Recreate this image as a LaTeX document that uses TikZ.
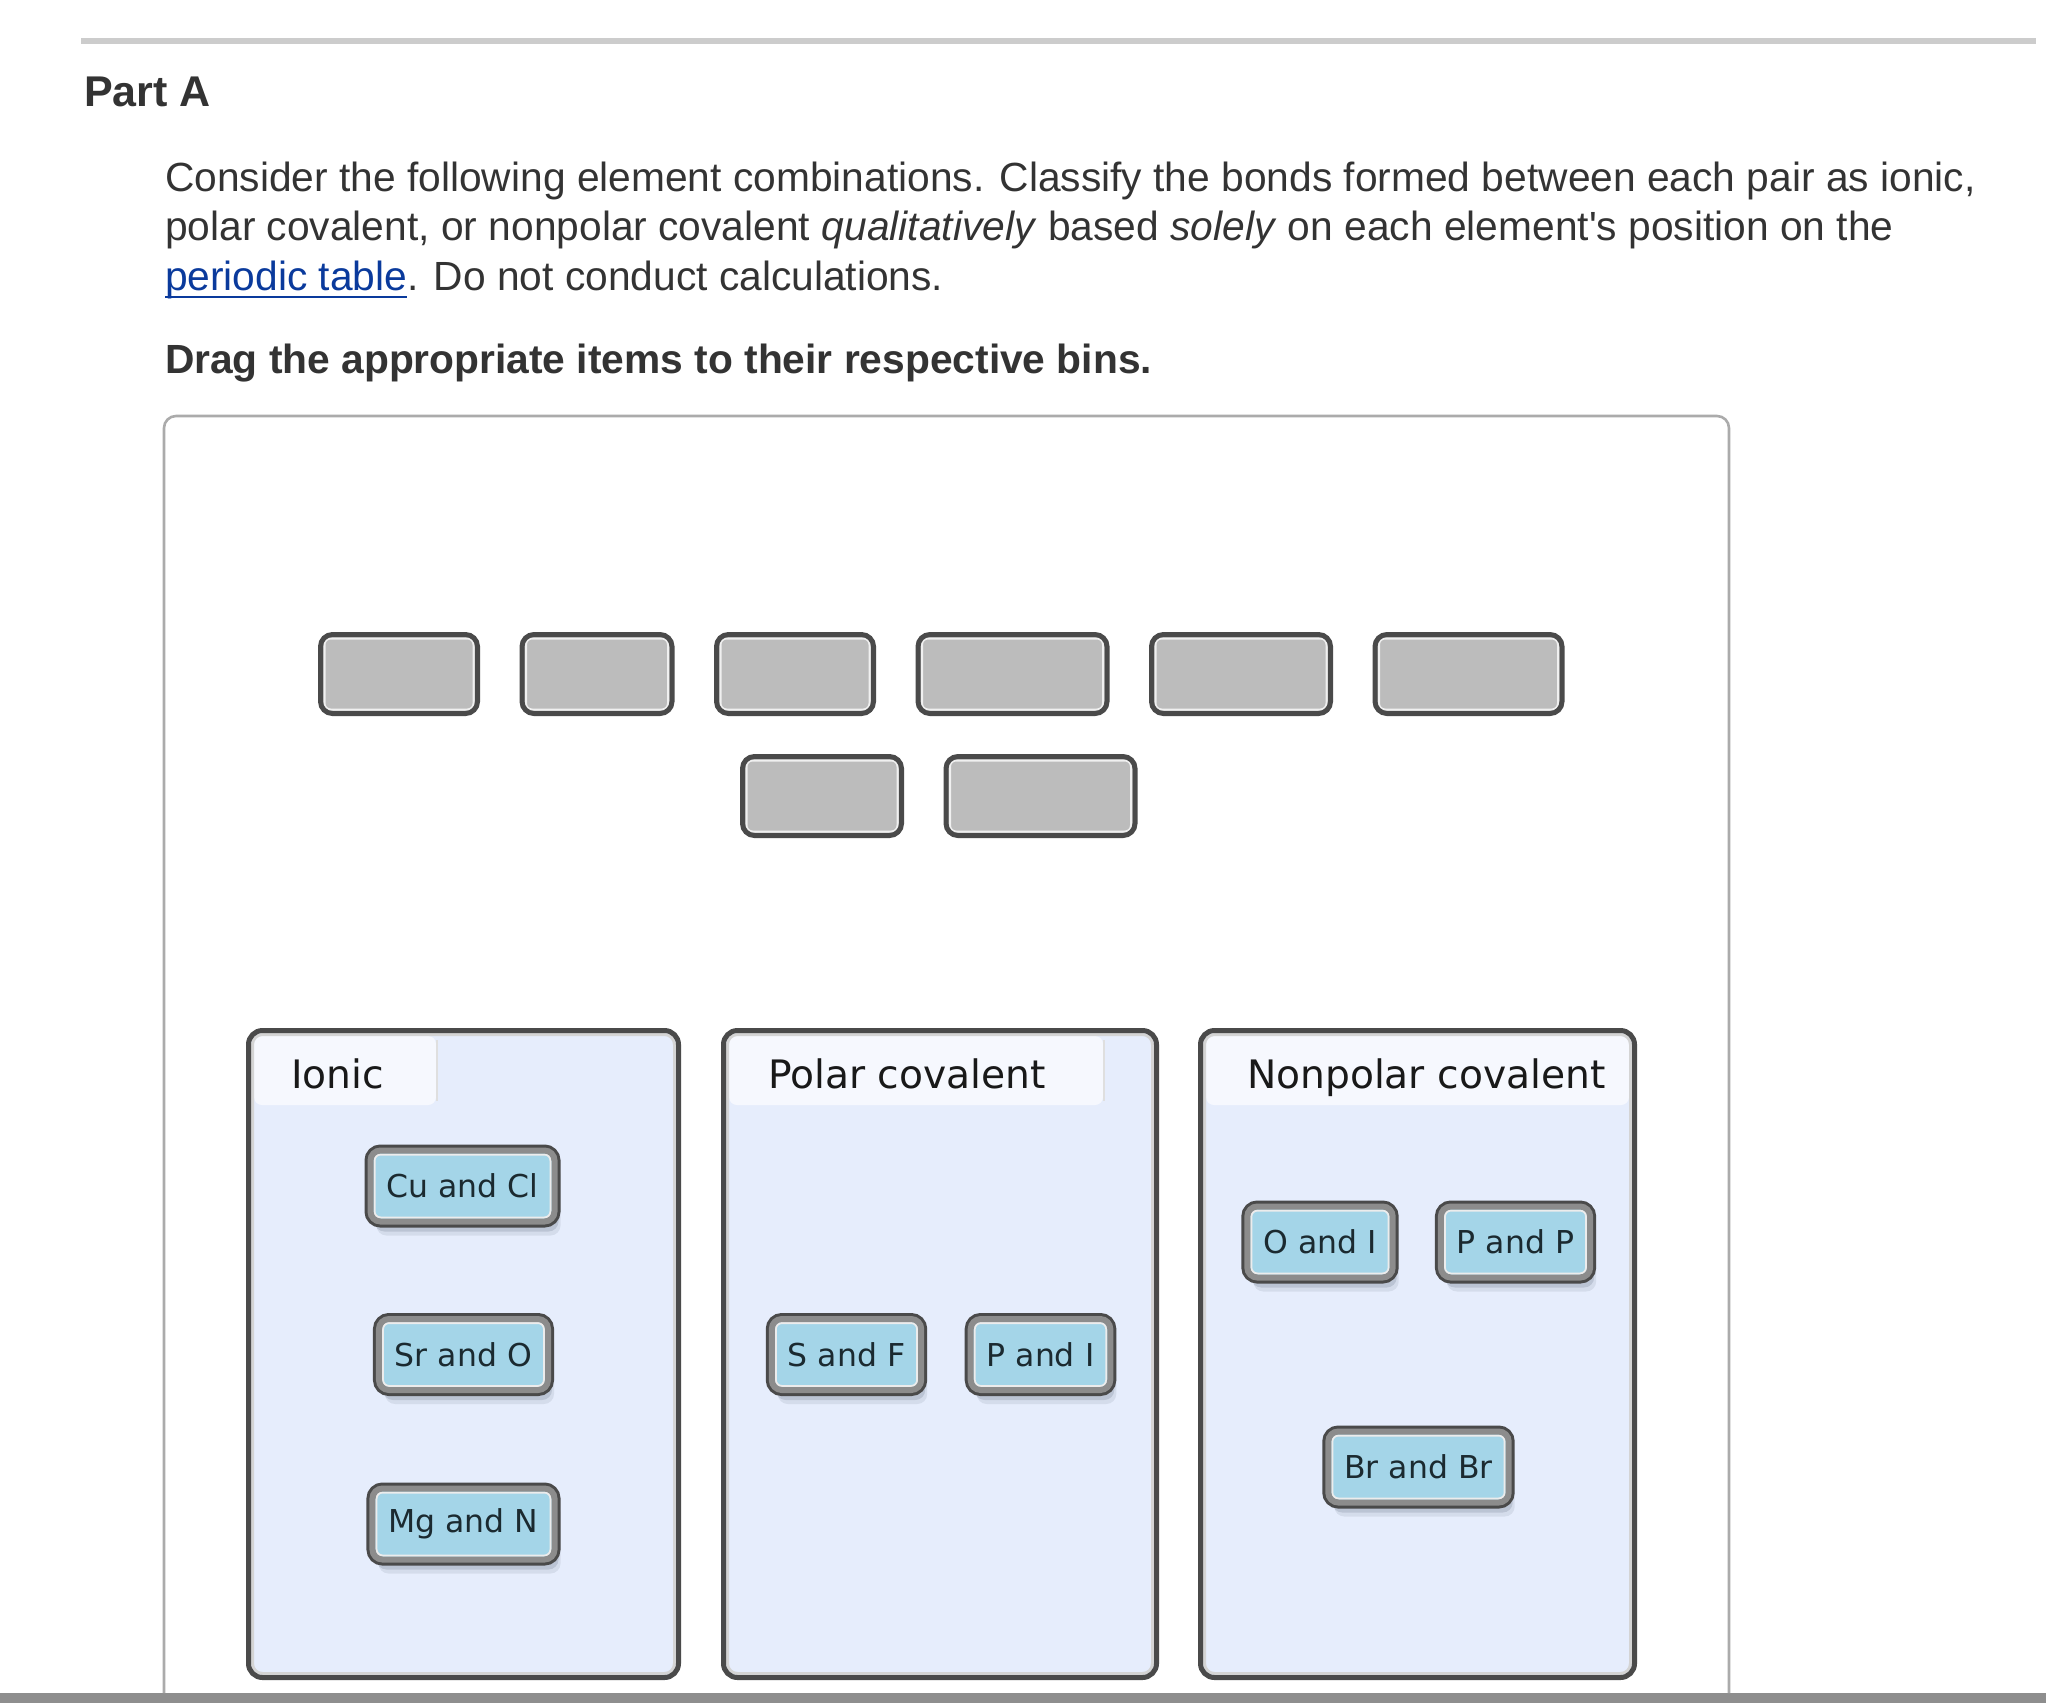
\documentclass[tikz,border=0pt]{standalone}
\usepackage{fontspec}
\setmainfont{Liberation Sans}
\newfontfamily\binfont{DejaVu Sans}
\usepackage{tikz}
\usetikzlibrary{
   positioning,
   shadows
}
\definecolor{inktext}{HTML}{333333}
\definecolor{linkblue}{HTML}{0A3A9C}
\definecolor{rulegray}{HTML}{CCCCCC}
\definecolor{boxgray}{HTML}{ABABAB}
\definecolor{framedark}{HTML}{4A4A4A}
\definecolor{rimlight}{HTML}{D4D4D4}
\definecolor{bodyblue}{HTML}{E6EDFC}
\definecolor{tabwhite}{HTML}{F6F8FE}
\definecolor{slotgray}{HTML}{BCBCBC}
\definecolor{itemblue}{HTML}{A4D5E8}
\definecolor{itemmid}{HTML}{8C8C8C}
\definecolor{itemtext}{HTML}{1B2A30}
\definecolor{shadowgray}{HTML}{5A6478}
\definecolor{bargray}{HTML}{8E8E8E}

\begin{document}
\begin{tikzpicture}[
  x=0.5pt, y=-0.5pt,
  every node/.style={inner sep=0pt, outer sep=0pt},
  bodytext/.style={anchor=base west, text=inktext, font=\fontsize{20.37pt}{24pt}\selectfont},
  headtext/.style={anchor=base west, text=inktext, font=\fontsize{21.5pt}{26pt}\selectfont\bfseries},
  bintitle/.style={anchor=base west, text=black!90, font=\binfont\fontsize{19.6pt}{23pt}\selectfont},
  innerrim/.style={path picture={\draw[#1, line width=1pt, rounded corners=3pt]
      ([shift={(2pt,-2pt)}]path picture bounding box.north west) rectangle
      ([shift={(-2pt,2pt)}]path picture bounding box.south east);}},
  dropslot/.style={draw=framedark, line width=2.5pt, fill=slotgray, rounded corners=6pt,
      minimum height=39.5pt, anchor=west, innerrim=white!88!gray},
  pairitem/.style={fill=itemblue, draw=itemmid, line width=3pt, rounded corners=5pt,
      drop shadow={shadow xshift=3pt, shadow yshift=-7pt, opacity=0.12, fill=shadowgray},
      drop shadow={shadow xshift=2pt, shadow yshift=-5pt, opacity=0.2, fill=shadowgray},
      preaction={draw=framedark, line width=6pt},
      minimum height=35.5pt, inner xsep=8pt, text=itemtext, innerrim=white!85!gray,
      font=\binfont\fontsize{15.75pt}{18pt}\selectfont},
]
\useasboundingbox (0,0) rectangle (2046,1703);

% top rule and bottom bar
\draw[rulegray, line width=3pt] (81,40.5) -- (2036,40.5);
\fill[bargray] (0,1693) rectangle (2046,1703);

% heading and instructions
\node[headtext] (parta) at (84,106) {Part A};
\node[bodytext] (intro1) at (165,191) {Consider the following element combinations. Classify the bonds formed between each pair as ionic,};
\node[bodytext] (intro2) at (165,240.5) {polar covalent, or nonpolar covalent \textit{qualitatively} based \textit{solely} on each element\textquotesingle s position on the};
\node[bodytext, text=linkblue] (link) at (165,290) {periodic table};
\node[bodytext] (intro3) at (link.base east) {. Do not conduct calculations.};
\draw[linkblue, line width=1pt] ([yshift=-3.5pt]link.base west) -- ([yshift=-3.5pt]link.base east);
\node[headtext, font=\fontsize{20.37pt}{24pt}\selectfont\bfseries] (drag) at (165,373) {Drag the appropriate items to their respective bins.};

% drag area
\draw[boxgray, line width=1.3pt, rounded corners=6pt] (164,1693) -- (164,416) -- (1729,416) -- (1729,1693);

% empty slots
\node[dropslot, minimum width=78.5pt] (slot1) at (320.5,674) {};
\node[dropslot, minimum width=75pt, right=22.25pt of slot1] (slot2) {};
\node[dropslot, minimum width=78.5pt, right=22.25pt of slot2] (slot3) {};
\node[dropslot, minimum width=94.5pt, right=22.25pt of slot3] (slot4) {};
\node[dropslot, minimum width=89.5pt, right=22.25pt of slot4] (slot5) {};
\node[dropslot, minimum width=93.5pt, right=22.25pt of slot5] (slot6) {};
\node[dropslot, minimum width=79.5pt] (slot7) at (742.5,796) {};
\node[dropslot, minimum width=94.5pt, right=22.25pt of slot7] (slot8) {};

% ionic bin
\fill[bodyblue, rounded corners=6pt] (248,1030) rectangle (679,1678);
\fill[tabwhite, rounded corners=4pt] (254,1036) rectangle (436,1105);
\draw[gray!25, line width=1pt] (437,1040) -- (437,1101);
\draw[rimlight, line width=1.5pt, rounded corners=5pt] (252.5,1034.5) rectangle (674.5,1673.5);
\draw[framedark, line width=2.5pt, rounded corners=7pt] (248.5,1030.5) rectangle (678.5,1677.5);
\node[bintitle] (ionic) at (291,1088) {Ionic};

% polar bin
\fill[bodyblue, rounded corners=6pt] (723,1030) rectangle (1157,1678);
\fill[tabwhite, rounded corners=4pt] (729,1036) rectangle (1103,1105);
\draw[gray!25, line width=1pt] (1104,1040) -- (1104,1101);
\draw[rimlight, line width=1.5pt, rounded corners=5pt] (727.5,1034.5) rectangle (1152.5,1673.5);
\draw[framedark, line width=2.5pt, rounded corners=7pt] (723.5,1030.5) rectangle (1156.5,1677.5);
\node[bintitle] (polar) at (768,1088) {Polar covalent};

% nonpolar bin
\fill[bodyblue, rounded corners=6pt] (1200,1030) rectangle (1635,1678);
\fill[tabwhite, rounded corners=4pt] (1206,1036) rectangle (1629,1105);
\draw[rimlight, line width=1.5pt, rounded corners=5pt] (1204.5,1034.5) rectangle (1630.5,1673.5);
\draw[framedark, line width=2.5pt, rounded corners=7pt] (1200.5,1030.5) rectangle (1634.5,1677.5);
\node[bintitle] (nonpolar) at (1247,1088) {Nonpolar covalent};

% sorted pairs
\node[pairitem] (cucl) at (462.5,1186) {Cu and Cl};
\node[pairitem] (sro) at (463.5,1354.5) {Sr and O};
\node[pairitem] (mgn) at (463.5,1524) {Mg and N};
\node[pairitem] (sf) at (846.5,1354.5) {S and F};
\node[pairitem] (pi) at (1040.5,1354.5) {P and I};
\node[pairitem] (oi) at (1320,1242) {O and I};
\node[pairitem] (pp) at (1515.5,1242) {P and P};
\node[pairitem] (brbr) at (1418.5,1467) {Br and Br};

\end{tikzpicture}
\end{document}
